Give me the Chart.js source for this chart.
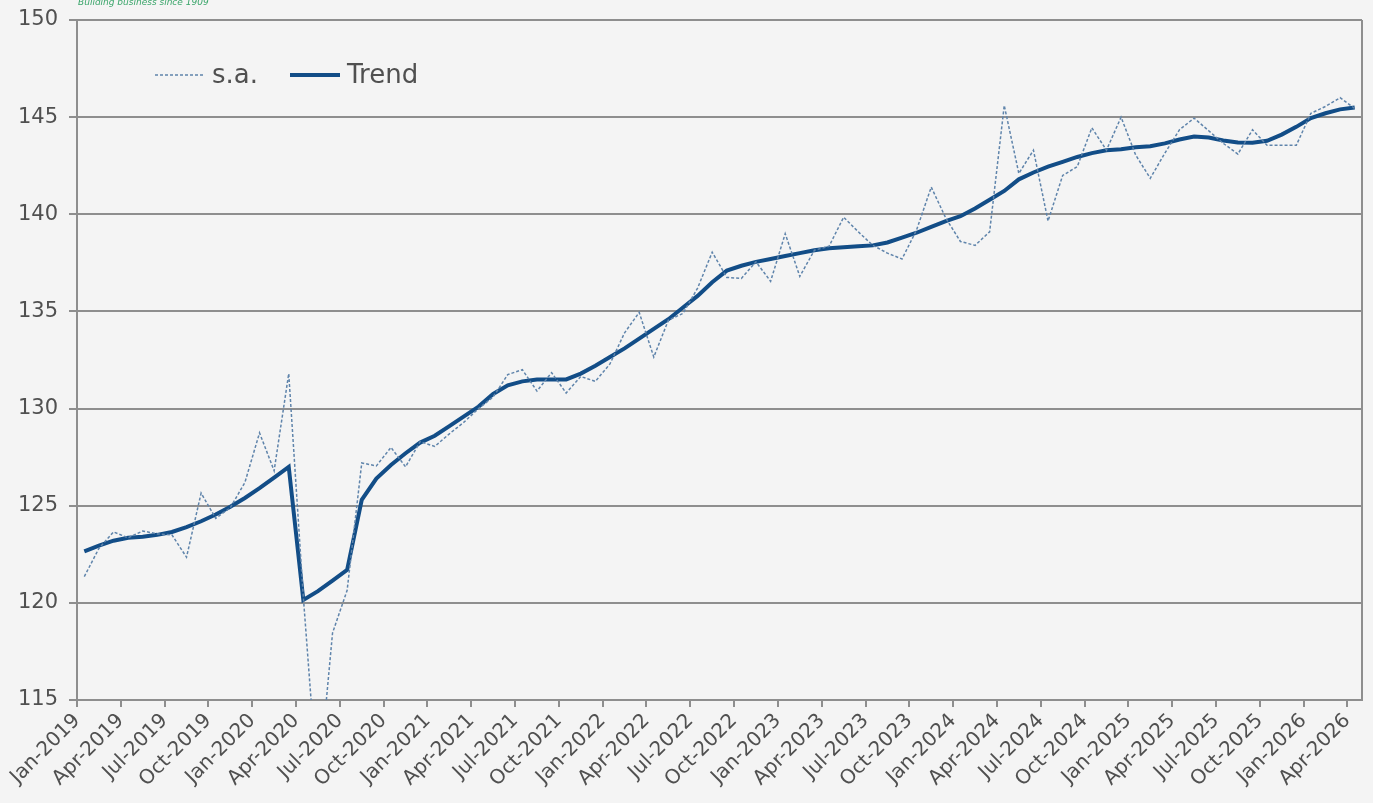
<!DOCTYPE html>
<html>
<head>
<meta charset="utf-8">
<title>Index</title>
<script src="https://cdn.jsdelivr.net/npm/chart.js@4.4.1/dist/chart.umd.min.js"></script>
<style>
  html, body { margin: 0; padding: 0; background: #f4f4f4; }
  canvas { display: block; }
</style>
</head>
<body>
<canvas id="chart" width="1373" height="803"></canvas>
<script>
// monthly index, Jan-2019 .. Apr-2026
var tickLabels = ['Jan-2019','Apr-2019','Jul-2019','Oct-2019','Jan-2020','Apr-2020','Jul-2020','Oct-2020',
	'Jan-2021','Apr-2021','Jul-2021','Oct-2021','Jan-2022','Apr-2022','Jul-2022','Oct-2022',
	'Jan-2023','Apr-2023','Jul-2023','Oct-2023','Jan-2024','Apr-2024','Jul-2024','Oct-2024',
	'Jan-2025','Apr-2025','Jul-2025','Oct-2025','Jan-2026','Apr-2026']

var yTicks = [115, 120, 125, 130, 135, 140, 145, 150]

var saValues = [
	121.35, 122.8, 123.65, 123.35, 123.7, 123.55, 123.5, 122.35, 125.65, 124.35, 124.9, 126.2,
	128.75, 126.8, 131.8, 120.3, 110.3, 118.45, 120.65, 127.2, 127.05, 128.0, 127.0, 128.3,
	128.05, 128.7, 129.3, 130.0, 130.6, 131.75, 132.0, 130.9, 131.85, 130.8, 131.65, 131.4,
	132.3, 133.9, 134.95, 132.65, 134.55, 134.9, 136.2, 138.05, 136.75, 136.7, 137.55, 136.55,
	139.0, 136.8, 138.15, 138.35, 139.85, 139.1, 138.4, 138.0, 137.7, 139.2, 141.4, 139.8,
	138.6, 138.4, 139.1, 145.6, 142.1, 143.3, 139.65, 142.0, 142.45, 144.45, 143.3, 145.0,
	143.05, 141.85, 143.15, 144.35, 144.95, 144.3, 143.65, 143.1, 144.35, 143.55, 143.55, 143.55,
	145.2, 145.55, 146.0, 145.45
]

var trendValues = [
	122.65, 122.95, 123.2, 123.35, 123.4, 123.5, 123.65, 123.9, 124.2, 124.55, 124.95, 125.4,
	125.9, 126.45, 127.0, 120.15, 120.6, 121.15, 121.7, 125.3, 126.4, 127.1, 127.7, 128.25,
	128.6, 129.1, 129.6, 130.1, 130.75, 131.2, 131.4, 131.5, 131.5, 131.5, 131.8, 132.2,
	132.65, 133.1, 133.6, 134.1, 134.6, 135.2, 135.8, 136.5, 137.1, 137.35, 137.55, 137.7,
	137.85, 138.0, 138.15, 138.25, 138.3, 138.35, 138.4, 138.55, 138.8, 139.05, 139.35, 139.65,
	139.9, 140.3, 140.75, 141.2, 141.8, 142.15, 142.45, 142.7, 142.95, 143.15, 143.3, 143.35,
	143.45, 143.5, 143.65, 143.85, 144.0, 143.95, 143.8, 143.7, 143.68, 143.78, 144.1, 144.5,
	144.95, 145.2, 145.4, 145.5
]

var gridColor = '#8e8e8e'
var textColor = '#505050'
var fontFamily = '"DejaVu Sans", sans-serif'

function toPoints(values){
	return values.map(function(v, i){ return { x: i, y: v } })
}

// frame, legend and the small tagline up top
var extras = {
	id: 'extras',
	beforeDatasetsDraw: function(chart){
		var c = chart.ctx, a = chart.chartArea
		c.save()
		c.strokeStyle = gridColor
		c.lineWidth = 2
		c.beginPath()
		c.moveTo(a.right, a.top)
		c.lineTo(a.right, a.bottom)
		c.stroke()
		c.restore()
	},
	afterDraw: function(chart){
		var c = chart.ctx
		var sa = chart.data.datasets[0], tr = chart.data.datasets[1]
		c.save()
		c.font = '26px ' + fontFamily
		c.textBaseline = 'middle'
		c.fillStyle = '#505050'

		c.strokeStyle = sa.borderColor
		c.lineWidth = sa.borderWidth
		c.setLineDash(sa.borderDash)
		c.beginPath()
		c.moveTo(155, 75)
		c.lineTo(205, 75)
		c.stroke()
		c.setLineDash([])
		c.fillText(sa.label, 212, 76)

		c.strokeStyle = tr.borderColor
		c.lineWidth = tr.borderWidth
		c.beginPath()
		c.moveTo(290, 75)
		c.lineTo(340, 75)
		c.stroke()
		c.fillText(tr.label, 347, 76)

		c.font = 'italic 9px ' + fontFamily
		c.fillStyle = '#3aa56a'
		c.textBaseline = 'alphabetic'
		c.fillText('Building business since 1909', 78, 5)
		c.restore()
	}
}

var chart = new Chart(document.getElementById('chart'), {
	type: 'line',
	data: {
		datasets: [{
			label: 's.a.',
			data: toPoints(saValues),
			borderColor: '#5f84ab',
			borderWidth: 1.5,
			borderDash: [3, 2],
			pointRadius: 0,
			tension: 0
		}, {
			label: 'Trend',
			data: toPoints(trendValues),
			borderColor: '#124d87',
			borderWidth: 4,
			pointRadius: 0,
			tension: 0
		}]
	},
	options: {
		responsive: false,
		animation: false,
		layout: { padding: { top: 20, right: 11, left: 0, bottom: 0 } },
		scales: {
			x: {
				type: 'linear',
				min: -0.5,
				max: trendValues.length - 0.5,
				afterBuildTicks: function(scale){
					scale.ticks = tickLabels.map(function(t, i){ return { value: -0.5 + 3 * i } })
				},
				afterFit: function(scale){ scale.height = 103 },
				ticks: {
					autoSkip: false,
					minRotation: 45,
					maxRotation: 45,
					padding: 2,
					color: textColor,
					font: { family: fontFamily, size: 20 },
					callback: function(value, index){ return tickLabels[index] }
				},
				grid: { drawOnChartArea: false, tickLength: 7, color: gridColor, lineWidth: 2 },
				border: { color: gridColor, width: 2 }
			},
			y: {
				min: 115,
				max: 150,
				afterBuildTicks: function(scale){
					scale.ticks = yTicks.map(function(v){ return { value: v } })
				},
				afterFit: function(scale){ scale.width = 77 },
				ticks: {
					padding: 11,
					color: textColor,
					font: { family: fontFamily, size: 21, lineHeight: 0.8 }
				},
				grid: { color: gridColor, lineWidth: 2, tickLength: 8 },
				border: { color: gridColor, width: 2 }
			}
		},
		plugins: {
			legend: { display: false },
			tooltip: { enabled: false }
		}
	},
	plugins: [extras]
})
</script>
</body>
</html>
